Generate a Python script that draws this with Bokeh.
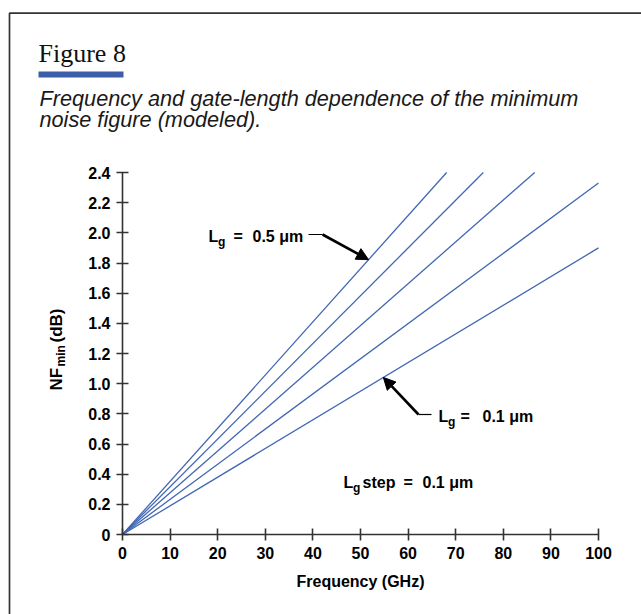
import numpy as np
from bokeh.plotting import figure
from bokeh.models import Label, BoxAnnotation, Arrow, NormalHead, Range1d, FixedTicker
from bokeh.embed import file_html
from bokeh.resources import INLINE

# ---------------- data ----------------
gate_length_um = [0.5, 0.4, 0.3, 0.2, 0.1]
line_start_freq = [0, 0, 0, 0, 0]
line_start_nf = [0, 0, 0, 0, 0]
line_end_freq = [68.1, 75.8, 86.6, 100.0, 100.0]   # GHz
line_end_nf = [2.40, 2.40, 2.40, 2.33, 1.90]       # dB
x_ticks = [0, 10, 20, 30, 40, 50, 60, 70, 80, 90, 100]
y_ticks = [0, 0.2, 0.4, 0.6, 0.8, 1.0, 1.2, 1.4, 1.6, 1.8, 2.0, 2.2, 2.4]
y_tick_labels = ["0", "0.2", "0.4", "0.6", "0.8", "1.0", "1.2", "1.4", "1.6", "1.8", "2.0", "2.2", "2.4"]
arrow_tip_freq = [51.7, 54.8]   # where the two pointers touch the 0.5 and 0.1 um lines

LINE_BLUE = "#4267b2"
BAR_BLUE = "#3c5ea9"
AX = "#333333"
SANS = "Liberation Sans"

# canvas geometry: the frame is the whole canvas, the axes sit at fixed data locations
W, H = 641, 614
X0_PX, X100_PX = 122.0, 598.0
Y0_PX, Y24_PX = 534.0, 172.0
ppx = (X100_PX - X0_PX) / 100.0
ppy = (Y0_PX - Y24_PX) / 2.4
x_range = Range1d(-X0_PX / ppx, (W - X0_PX) / ppx)
y_range = Range1d(-(H - Y0_PX) / ppy, Y0_PX / ppy)

p = figure(width=W, height=H, x_range=x_range, y_range=y_range,
           output_backend="svg", toolbar_location=None, min_border=0)
p.outline_line_color = None
p.xgrid.visible = False
p.ygrid.visible = False
p.background_fill_color = "white"
p.border_fill_color = "white"

p.xaxis.ticker = FixedTicker(ticks=x_ticks)
p.yaxis.ticker = FixedTicker(ticks=y_ticks)
p.xaxis.bounds = (x_ticks[0], x_ticks[-1])
p.yaxis.bounds = (y_ticks[0], y_ticks[-1])
p.xaxis.fixed_location = 0
p.yaxis.fixed_location = 0
p.yaxis.major_label_overrides = {t: l for t, l in zip(y_ticks, y_tick_labels)}
for ax in (p.xaxis[0], p.yaxis[0]):
    ax.axis_line_color = AX
    ax.axis_line_width = 1.6
    ax.major_tick_line_color = AX
    ax.major_tick_line_width = 1.6
    ax.major_tick_in = 6
    ax.major_tick_out = 6
    ax.minor_tick_line_color = None
    ax.major_label_text_font = SANS
    ax.major_label_text_font_style = "bold"
    ax.major_label_text_font_size = "16px"
    ax.major_label_text_color = "black"
    ax.major_label_standoff = 6
p.xaxis.axis_label = "Frequency (GHz)"
p.xaxis.axis_label_text_font = SANS
p.xaxis.axis_label_text_font_style = "bold"
p.xaxis.axis_label_text_font_size = "16px"
p.xaxis.axis_label_text_color = "black"
p.xaxis.axis_label_standoff = 11

# ---------------- the five lines ----------------
for xs, ys, xe, ye in zip(line_start_freq, line_start_nf, line_end_freq, line_end_nf):
    p.line([xs, xe], [ys, ye], line_color=LINE_BLUE, line_width=1.3)


def lab(text, px, py, size=16, font=SANS, style="bold", angle=0, color="black"):
    """label whose baseline starts at canvas pixel (px, py); screen units, y from the bottom"""
    shift = 0.38 * size   # bokeh's alphabetic anchor sits a little below the glyph baseline
    if angle:
        px -= shift
    else:
        py -= shift
    p.add_layout(Label(x=px, y=H - py, x_units="screen", y_units="screen", text=text,
                       text_font=font, text_font_style=style, text_font_size=f"{size}px",
                       text_color=color, angle=angle, text_align="left",
                       text_baseline="alphabetic"))


def box(left, top, right, bottom, **kw):
    p.add_layout(BoxAnnotation(left=left, right=right, top=H - top, bottom=H - bottom,
                               left_units="screen", right_units="screen",
                               top_units="screen", bottom_units="screen", **kw))


# outer frame and title bar
box(9, 12.7, 800, 800, fill_color=None, fill_alpha=0, line_color=AX, line_alpha=1, line_width=1.7)
box(38, 71, 123, 77, fill_color=BAR_BLUE, fill_alpha=1, line_color=None)

lab("Figure 8", 38, 63, size=26, font="Liberation Serif", style="normal", color="#111111")
lab("Frequency and gate-length dependence of the minimum", 39, 106, size=21.7,
    style="italic", color="#1a1a1a")
lab("noise figure (modeled).", 39, 127, size=21.7, style="italic", color="#1a1a1a")

# y axis label with subscript (rotated)
lab("NF", 62, 390, size=17, angle=np.pi / 2)
lab("min", 65, 366, size=12, angle=np.pi / 2)
lab("(dB)", 62, 342, size=17, angle=np.pi / 2)

# annotation: Lg = 0.5 um
lab("L", 208, 242)
lab("g", 217.5, 246, size=12)
lab("=", 233, 242)
lab("0.5 \u03bcm", 252, 242)
# annotation: Lg = 0.1 um
lab("L", 438, 422)
lab("g", 447.5, 426, size=12)
lab("=", 460, 422)
lab("0.1 \u03bcm", 482, 422)
# annotation: Lg step = 0.1 um
lab("L", 343, 488)
lab("g", 352.5, 492, size=12)
lab("step", 362, 488)
lab("=", 403, 488)
lab("0.1 \u03bcm", 422, 488)


# pointer arrows (page pixels -> data)
def dx(px):
    return (px - X0_PX) / ppx


def dy(py):
    return (Y0_PX - py) / ppy


s_hi = line_end_nf[0] / line_end_freq[0]
s_lo = line_end_nf[4] / line_end_freq[4]

p.segment(x0=[dx(308)], y0=[dy(234)], x1=[dx(322)], y1=[dy(234)], line_color="black", line_width=1.2)
p.add_layout(Arrow(x_start=dx(322), y_start=dy(234), x_end=arrow_tip_freq[0], y_end=s_hi * arrow_tip_freq[0],
                   line_color="black", line_width=2.6,
                   end=NormalHead(size=12, fill_color="black", line_color="black", line_width=1)))

p.segment(x0=[dx(418)], y0=[dy(414)], x1=[dx(431)], y1=[dy(414)], line_color="black", line_width=1.2)
p.add_layout(Arrow(x_start=dx(418), y_start=dy(414), x_end=arrow_tip_freq[1], y_end=s_lo * arrow_tip_freq[1],
                   line_color="black", line_width=2.6,
                   end=NormalHead(size=12, fill_color="black", line_color="black", line_width=1)))

open("out.html", "w").write(file_html(p, INLINE))
